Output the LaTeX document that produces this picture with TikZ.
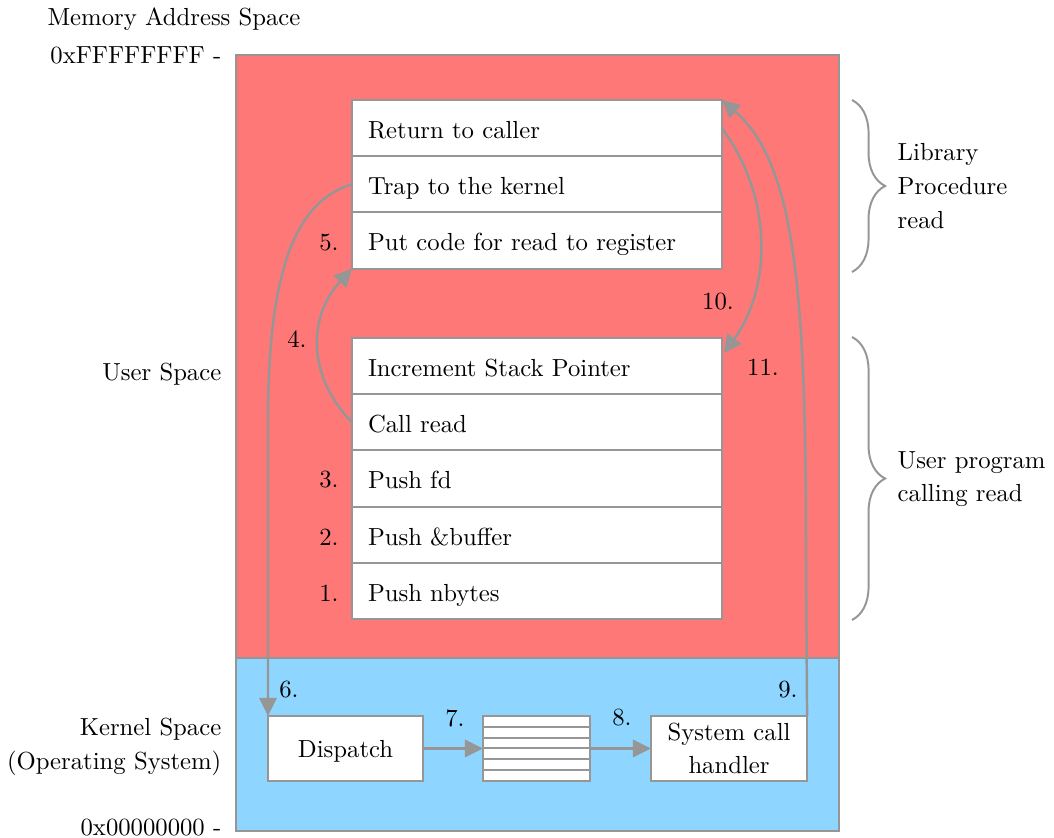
\documentclass[tikz,border=0pt]{standalone}
\usetikzlibrary{arrows.meta,decorations.pathreplacing,calc}
\definecolor{linegray}{RGB}{150,150,150}
\definecolor{userred}{RGB}{255,120,120}
\definecolor{kernelblue}{RGB}{142,214,255}
\begin{document}
\begin{tikzpicture}[x=0.4049pt,y=-0.4049pt,
  font=\fontsize{10}{13.6}\selectfont,
  row/.style={draw=linegray, line width=0.8pt, fill=white, anchor=north west, outer sep=0pt,
    text width=136.8pt, text height=10.4pt, text depth=2pt,
    inner xsep=6.48pt, inner ysep=0pt, minimum height=22.75pt, align=left},
  kbox/.style={draw=linegray, line width=0.8pt, fill=white, minimum height=26.3pt,
    inner sep=0pt, outer sep=0pt, align=center, anchor=north west},
  flow/.style={draw=linegray, line width=1pt, -{Triangle[length=7.3pt,width=7pt]}},
  region/.style={draw=linegray, line width=0.8pt},
  bracestyle/.style={draw=linegray, line width=0.8pt, decorate,
    decoration={brace, amplitude=13.4pt}}
]
\useasboundingbox (0,0) rectangle (1054,838);

% address space regions
\fill[userred] (236,55) rectangle (839,658);
\fill[kernelblue] (236,658) rectangle (839,831);
\draw[region] (236,55) rectangle (839,831);
\draw[region] (236,658) -- (839,658);

% library procedure read
\node[row] (ret) at (352,100) {Return to caller};
\node[row] (trap) at (ret.south west) {Trap to the kernel};
\node[row] (put) at (trap.south west) {Put code for read to register};

% user program calling read
\node[row] (inc) at (352,338) {Increment Stack Pointer};
\node[row] (call) at (inc.south west) {Call read};
\node[row] (pfd) at (call.south west) {Push fd};
\node[row] (pbuf) at (pfd.south west) {Push \&buffer};
\node[row] (pnb) at (pbuf.south west) {Push nbytes};

% kernel
\node[kbox, minimum width=62.8pt, text height=9pt, text depth=2pt] (disp) at (268,716) {Dispatch};
\node[kbox, minimum width=43.3pt] (tab) at (483,716) {};
\node[kbox, minimum width=63.2pt] (sch) at (651,716) {System call\\handler};
\foreach \i in {1,...,5}
  \draw[linegray, line width=0.8pt]
    ($(tab.north west)!\i/6!(tab.south west)$) -- ($(tab.north east)!\i/6!(tab.south east)$);

% control flow
\coordinate (incin) at ($(inc.east)+(2,-13)$);
\draw[flow] (call.west) .. controls (310,380) and (305,320) .. (put.south west);
\draw[flow] (trap.west) .. controls (300,200) and (268,260) .. (268,420) -- (disp.north west);
\draw[flow] (disp.east) -- (tab.west);
\draw[flow] (tab.east) -- (sch.west);
\draw[flow] (sch.north east) -- (806,560) .. controls (806,300) and (797,165) .. (ret.north east);
\draw[flow] (ret.east) .. controls (775,200) and (770,290) .. (incin);

% step numbers
\node (n1) at (329,593) {1.};
\node (n2) at (329,537) {2.};
\node (n3) at (329,480) {3.};
\node (n4) at (297,339) {4.};
\node (n5) at (329,243) {5.};
\node (n6) at (289,690) {6.};
\node (n7) at (455,718) {7.};
\node (n8) at (622,718) {8.};
\node (n9) at (788,690) {9.};
\node (n10) at (718,302) {10.};
\node (n11) at (763,367) {11.};

% braces
\draw[bracestyle] (852,100) -- (852,272);
\draw[bracestyle] (852,337) -- (852,620);
\node[anchor=west, align=left] (lib) at (889,186) {Library\\Procedure\\read};
\node[anchor=west, align=left] (upc) at (889,479) {User program\\calling read};

% address labels
\node (mas) at (174,19) {Memory Address Space};
\node[anchor=east] (hi) at (230,55) {0xFFFFFFFF -};
\node[anchor=east] (us) at (230,374) {User Space};
\node[anchor=east, align=right] (ks) at (230,747) {Kernel Space\\(Operating System)};
\node[anchor=east] (lo) at (230,828) {0x00000000 -};
\end{tikzpicture}
\end{document}
